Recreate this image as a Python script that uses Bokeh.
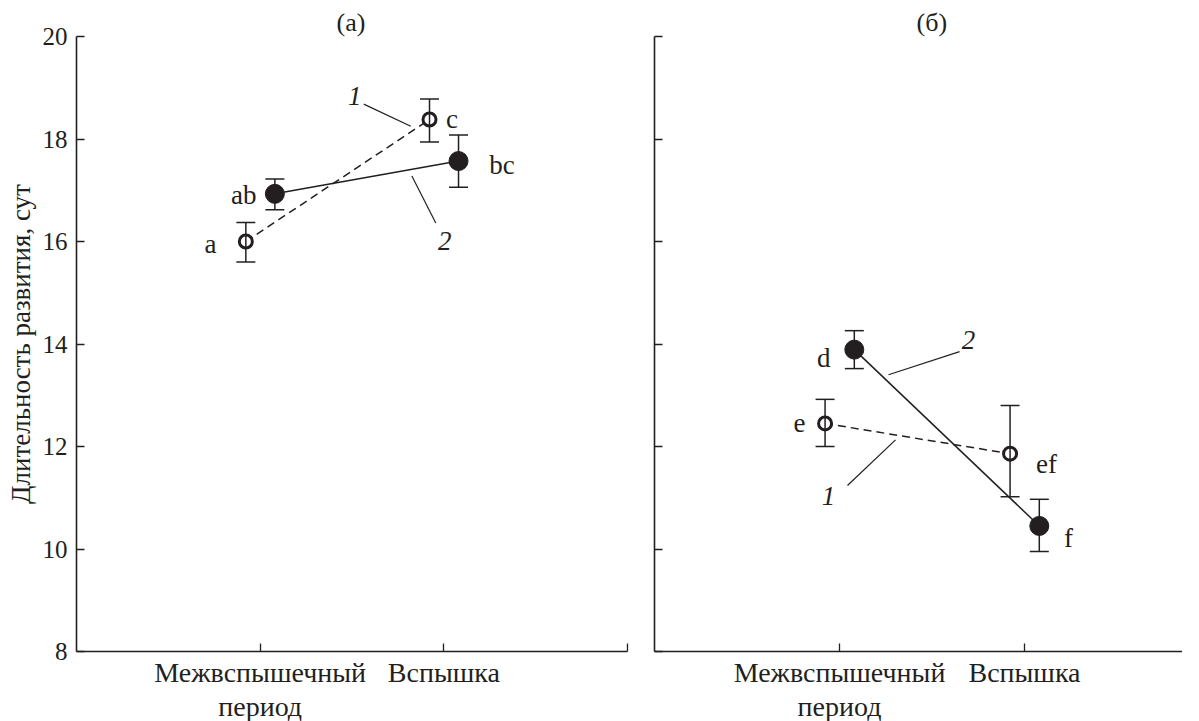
from bokeh.plotting import figure
from bokeh.layouts import row
from bokeh.models import FixedTicker, Range1d, ColumnDataSource
from bokeh.core.properties import value
from bokeh.embed import file_html
from bokeh.resources import INLINE

# ---------------- data ----------------
categories = ["Межвспышечный\nпериод", "Вспышка"]
cat_pos = [1, 2]
panel_titles = ["(а)", "(б)"]
y_label = "Длительность развития, сут"
y_ticks = [8, 10, 12, 14, 16, 18, 20]

# panel (а): series 1 (open, dashed), series 2 (filled, solid)
a_s1_mean = [16.00, 18.38]
a_s1_low = [15.60, 17.94]
a_s1_high = [16.37, 18.78]
a_s2_mean = [16.93, 17.57]
a_s2_low = [16.62, 17.06]
a_s2_high = [17.22, 18.08]

# panel (б)
b_s1_mean = [12.45, 11.86]
b_s1_low = [12.00, 11.02]
b_s1_high = [12.92, 12.80]
b_s2_mean = [13.89, 10.45]
b_s2_low = [13.52, 9.95]
b_s2_high = [14.26, 10.97]

# significance letters and their label positions
a_letters = ["a", "ab", "c", "bc"]
a_letter_x = [0.73, 0.91, 2.045, 2.316]
a_letter_y = [15.95, 16.91, 18.39, 17.49]
b_letters = ["e", "d", "ef", "f"]
b_letter_x = [0.784, 0.915, 2.119, 2.238]
b_letter_y = [12.46, 13.73, 11.66, 10.22]

# series number labels ("1", "2") and leader lines
a_num = ["1", "2"]
a_num_x = [1.515, 2.005]
a_num_y = [18.84, 16.01]
a_lead_x0 = [1.564, 1.826]
a_lead_y0 = [18.68, 17.28]
a_lead_x1 = [1.820, 1.956]
a_lead_y1 = [18.25, 16.36]

b_num = ["1", "2"]
b_num_x = [0.941, 1.697]
b_num_y = [11.04, 14.08]
b_lead_x0 = [1.043, 1.649]
b_lead_y0 = [11.24, 13.85]
b_lead_x1 = [1.303, 1.265]
b_lead_y1 = [12.13, 13.40]

series_offset = [-0.078, 0.08]

INK = "#231f20"
FONT = "Liberation Serif"


def make_panel(title, s1, s2, letters, nums, leads, x_end, frame_w,
               left_border, right_border, show_labels, title_offset, end_tick):
    p = figure(frame_width=frame_w, frame_height=615,
               x_range=Range1d(0, x_end), y_range=Range1d(8, 20),
               output_backend="svg", toolbar_location=None,
               min_border_left=left_border, min_border_right=right_border,
               min_border_top=36, min_border_bottom=0,
               outline_line_color=None)
    p.grid.visible = False
    p.title.text = title
    p.title.align = "left"
    p.title.offset = title_offset
    p.title.standoff = 0
    p.title.text_font = FONT
    p.title.text_font_size = "26px"
    p.title.text_font_style = "normal"
    p.title.text_color = INK

    # axes
    for ax in (p.xaxis, p.yaxis):
        ax.axis_line_width = 1.6
        ax.axis_line_color = INK
        ax.major_tick_line_color = INK
        ax.major_tick_line_width = 1.3
        ax.major_tick_in = 8
        ax.major_tick_out = 0
        ax.minor_tick_line_color = None
        ax.major_label_text_font = FONT
        ax.major_label_text_color = INK
    xt = cat_pos + ([3] if end_tick else [])
    p.xaxis.ticker = FixedTicker(ticks=xt)
    ov = {cat_pos[i]: categories[i] for i in range(len(categories))}
    if end_tick:
        ov[3] = ""
    p.xaxis.major_label_overrides = ov
    p.xaxis.major_label_text_font_size = "28px"
    p.xaxis.major_label_text_line_height = 1.1
    p.xaxis.major_label_standoff = 5
    p.yaxis.ticker = FixedTicker(ticks=y_ticks)
    if show_labels:
        p.yaxis.major_label_text_font_size = "25px"
        p.yaxis.major_label_standoff = 9
        p.yaxis.axis_label = y_label
        p.yaxis.axis_label_text_font = FONT
        p.yaxis.axis_label_text_font_size = "27px"
        p.yaxis.axis_label_text_font_style = "normal"
        p.yaxis.axis_label_text_color = INK
        p.yaxis.axis_label_standoff = 4
    else:
        p.yaxis.major_label_overrides = {t: "" for t in y_ticks}
        p.yaxis.major_label_standoff = 0
        p.yaxis.major_label_text_font_size = "1px"

    (m1, l1, h1), (m2, l2, h2) = s1, s2
    x1 = [c + series_offset[0] for c in cat_pos]
    x2 = [c + series_offset[1] for c in cat_pos]
    src1 = ColumnDataSource(dict(x=x1, y=m1, lo=l1, hi=h1))
    src2 = ColumnDataSource(dict(x=x2, y=m2, lo=l2, hi=h2))

    # connecting lines
    p.line("x", "y", source=src1, line_color=INK, line_width=1.5, line_dash="8 5")
    p.line("x", "y", source=src2, line_color=INK, line_width=1.5)

    # leader lines
    lx0, ly0, lx1, ly1 = leads
    p.segment(x0=lx0, y0=ly0, x1=lx1, y1=ly1, line_color=INK, line_width=1.2)

    # open circles
    p.scatter("x", "y", source=src1, marker="circle", size=13,
              fill_color="white", line_color=INK, line_width=3)

    # error bars
    for src in (src1, src2):
        p.segment(x0="x", y0="lo", x1="x", y1="hi", source=src,
                  line_color=INK, line_width=1.5)
        p.scatter("x", "lo", source=src, marker="dash", size=19,
                  line_color=INK, line_width=1.5)
        p.scatter("x", "hi", source=src, marker="dash", size=19,
                  line_color=INK, line_width=1.5)

    # filled circles
    p.scatter("x", "y", source=src2, marker="circle", size=19,
              fill_color=INK, line_color=INK, line_width=1)

    # letters
    lt, ltx, lty = letters
    p.text(x=ltx, y=lty, text=lt, text_font=value(FONT), text_font_size="27px",
           text_align="center", text_baseline="middle", text_color=INK)
    nt, ntx, nty = nums
    p.text(x=ntx, y=nty, text=nt, text_font=value(FONT), text_font_size="27px",
           text_font_style="italic",
           text_align="center", text_baseline="middle", text_color=INK)
    return p


p1 = make_panel(panel_titles[0],
                (a_s1_mean, a_s1_low, a_s1_high), (a_s2_mean, a_s2_low, a_s2_high),
                (a_letters, a_letter_x, a_letter_y),
                (a_num, a_num_x, a_num_y),
                (a_lead_x0, a_lead_y0, a_lead_x1, a_lead_y1),
                x_end=3.0, frame_w=551, left_border=76, right_border=13,
                show_labels=True, title_offset=260, end_tick=True)

p2 = make_panel(panel_titles[1],
                (b_s1_mean, b_s1_low, b_s1_high), (b_s2_mean, b_s2_low, b_s2_high),
                (b_letters, b_letter_x, b_letter_y),
                (b_num, b_num_x, b_num_y),
                (b_lead_x0, b_lead_y0, b_lead_x1, b_lead_y1),
                x_end=528 / 185.0, frame_w=528, left_border=14, right_border=0,
                show_labels=False, title_offset=262, end_tick=False)

layout = row(p1, p2)
open("out.html", "w").write(file_html(layout, INLINE))
